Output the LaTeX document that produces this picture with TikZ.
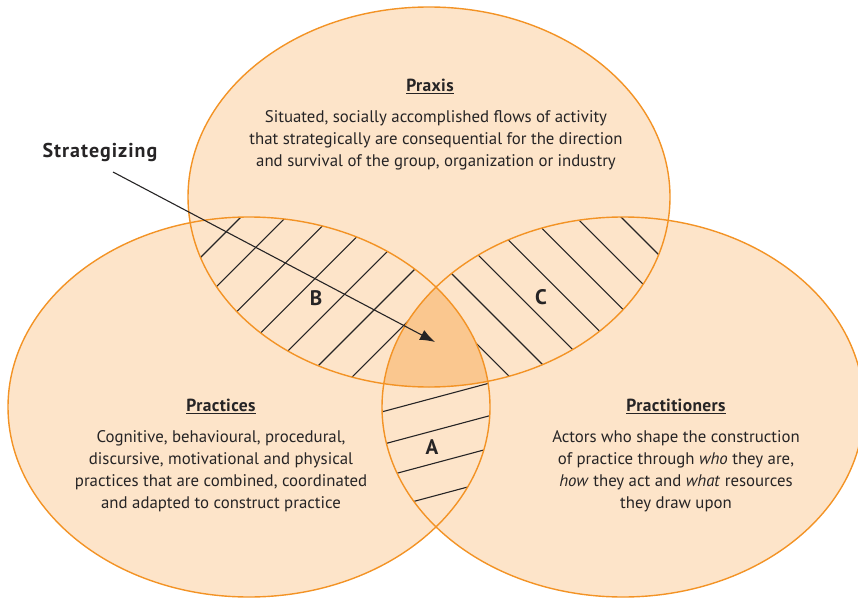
\documentclass[tikz,border=0pt]{standalone}
\usepackage{fontspec}
\setmainfont{PT Sans}
\usetikzlibrary{arrows.meta}
\definecolor{peach}{HTML}{FDE4C9}
\definecolor{deeppeach}{HTML}{FAC78F}
\definecolor{rim}{HTML}{F39325}
\definecolor{ink}{HTML}{262425}

% heading with a slightly heavier, lower underline
\newcommand{\headline}[1]{\underline{\smash{#1}\vphantom{x}}}

\begin{document}
\begin{tikzpicture}[x=1pt,y=-1pt,
  vennsize/.style={x radius=241pt, y radius=190pt},
  hatch/.style={ink, line width=1.1pt},
  rimline/.style={rim, line width=1.4pt},
  heading/.style={font=\fontsize{17.5}{22}\selectfont\bfseries\addfontfeature{LetterSpace=2}, text=ink, inner sep=0pt},
  body/.style={font=\fontsize{16.8}{22}\selectfont, text=ink, align=center, inner sep=0pt},
  tag/.style={font=\fontsize{21}{24}\selectfont\bfseries, text=ink, inner sep=0pt},
  pointer/.style={ink, line width=1.1pt, -{Latex[length=15pt,width=11pt]}}]
\useasboundingbox (0,0) rectangle (858,601);

% centres of the three sets
\coordinate (cT) at (429,197);
\coordinate (cL) at (249,407);
\coordinate (cR) at (623,407);

% base fills
\fill[peach] (cT) ellipse[vennsize];
\fill[peach] (cL) ellipse[vennsize];
\fill[peach] (cR) ellipse[vennsize];

% hatching of B (praxis and practices)
\begin{scope}
  \clip (cT) ellipse[vennsize];
  \clip (cL) ellipse[vennsize];
  \foreach \k in {0,...,9}{
    \pgfmathsetmacro\c{458+45.2*\k}
    \draw[hatch] (150,{\c-150}) -- (560,{\c-560});
  }
\end{scope}

% hatching of C (praxis and practitioners)
\begin{scope}
  \clip (cT) ellipse[vennsize];
  \clip (cR) ellipse[vennsize];
  \foreach \k in {0,...,10}{
    \pgfmathsetmacro\c{404-45.2*\k}
    \draw[hatch] (330,{330-(\c)}) -- (720,{720-(\c)});
  }
\end{scope}

% hatching of A (practices and practitioners)
\begin{scope}
  \clip (cL) ellipse[vennsize];
  \clip (cR) ellipse[vennsize];
  \foreach \c in {399,431.7,464.4,497.1}{
    \draw[hatch] (350,{\c+21.4}) -- (520,{\c-24.1});
  }
\end{scope}

% the common core
\begin{scope}
  \clip (cT) ellipse[vennsize];
  \clip (cL) ellipse[vennsize];
  \fill[deeppeach] (cR) ellipse[vennsize];
\end{scope}

% outlines
\draw[rimline] (cT) ellipse[vennsize];
\draw[rimline] (cL) ellipse[vennsize];
\draw[rimline] (cR) ellipse[vennsize];

% texts
\node[heading] (praxisH) at (430,88) {\headline{Praxis}};
\node[body] (praxisB) at (436,140) {Situated, socially accomplished flows of activity\\that strategically are consequential for the direction\\and survival of the group, organization or industry};

\node[heading] (practH) at (221,408) {\headline{Practices}};
\node[body] (practB) at (221,471.5) {Cognitive, behavioural, procedural,\\discursive, motivational and physical\\practices that are combined, coordinated\\and adapted to construct practice};

\node[heading] (actH) at (676,408) {\headline{Practitioners}};
\node[body] (actB) at (676,471.5) {Actors who shape the construction\\of practice through \textit{who} they are,\\\textit{how} they act and \textit{what} resources\\they draw upon};

\node[tag] (labA) at (432,447) {A};
\node[tag] (labB) at (316,298) {B};
\node[tag] (labC) at (541,297) {C};

\node[tag, font=\fontsize{20}{22}\selectfont\bfseries\addfontfeature{LetterSpace=5}] (strat) at (100,152) {Strategizing};
\coordinate (arrowstart) at (113,172);
\coordinate (arrowtip) at (435,342);
\draw[pointer] (arrowstart) -- (arrowtip);
\end{tikzpicture}
\end{document}
